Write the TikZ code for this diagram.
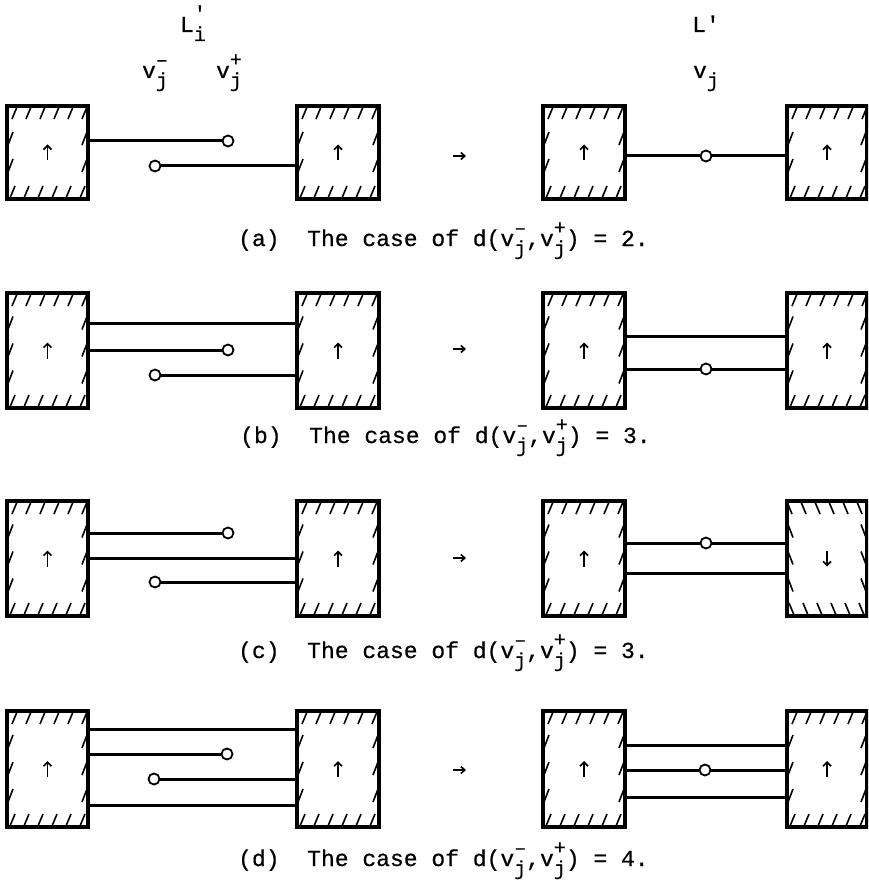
\documentclass[tikz,border=0pt]{standalone}
\usepackage{fontspec}
\usetikzlibrary{arrows.meta}
\newfontfamily\cour[FakeBold=0.6]{Liberation Mono}
\newcommand\supsub[2]{{\fontsize{20}{20}\selectfont\rlap{\raisebox{-9pt}{#2}}\raisebox{12pt}{#1}}}
\newcommand\subonly[1]{{\fontsize{20}{20}\selectfont\raisebox{-9pt}{#1}}}
\newcommand\mns{\symbol{"2013}}
\newcommand\capfont{\cour\fontsize{23}{28}\selectfont}
\tikzset{
  hbox/.style={draw, line width=3.8pt, rectangle, inner sep=0pt, outer sep=0pt, anchor=north west},
  tick/.style={line width=1.6pt},
  conn/.style={line width=3pt},
  dot/.style={circle, draw, line width=1.8pt, minimum size=11pt, inner sep=0pt, fill=white},
  uparr/.style={line width=1.7pt, -{Straight Barb[length=4pt,width=8pt]}},
  tarr/.style={line width=1.6pt, -{Straight Barb[length=4pt,width=7pt]}},
  lbl/.style={font=\capfont, inner sep=0pt, anchor=base},
  captxt/.style={font=\capfont, inner sep=0pt, anchor=base west},
}
% name, left x, top y, width, height, mirror (1 or -1)
\newcommand\hatchbox[6]{%
  \node[hbox, minimum width=#4pt, minimum height=#5pt] (#1) at (#2,#3) {};
  \begin{scope}[shift={(#1.center)}, xscale=#6]
    \pgfmathsetmacro\bxhw{#4/2}
    \pgfmathsetmacro\bxhh{#5/2}
    \pgfmathtruncatemacro\bxn{(#5-28)/25}
    \foreach \k in {0,...,5}{
      \draw[tick] (-\bxhw+10+14*\k, -\bxhh+1) -- ++(-5,12);
      \draw[tick] (-\bxhw+3+14*\k, \bxhh-1) -- ++(5,-12);
    }
    \foreach \k in {1,...,\bxn}{
      \pgfmathsetmacro\bxy{(\k-(\bxn+1)/2)*27}
      \draw[tick] (-\bxhw+1,\bxy+6) -- ++(5,-13);
      \draw[tick] (\bxhw-6,\bxy+6) -- ++(5,-13);
    }
    \draw[uparr] (0,{8*(#6)}) -- (0,{-8*(#6)});
  \end{scope}
}
\begin{document}
\begin{tikzpicture}[x=1pt,y=-1pt]
\useasboundingbox (0,0) rectangle (868,893);
\clip (0,0) rectangle (868,893);

% top labels
\node[lbl] (Li) at (193,32) {L\supsub{\textquotesingle}{i}};
\node[lbl] (vm) at (155,78) {v\supsub{\mns}{j}};
\node[lbl] (vp) at (229,78) {v\supsub{+}{j}};
\node[lbl] (Lp) at (706,32) {L\textquotesingle};
\node[lbl] (vj) at (706,78) {v\subonly{j}};

% ---------- row (a)
\hatchbox{a1}{7}{106}{81}{93}{1}
\hatchbox{a2}{297}{106}{82}{93}{1}
\hatchbox{a3}{543}{106}{82}{93}{1}
\hatchbox{a4}{787}{106}{80}{93}{1}
\node[dot] (ap) at (228,141) {};
\node[dot] (am) at (155,166) {};
\node[dot] (av) at (706,156) {};
\draw[conn] (a1.east |- ap) -- (ap);
\draw[conn] (am) -- (a2.west |- am);
\draw[conn] (a3.east |- av) -- (av) -- (a4.west |- av);
\coordinate (ta0) at (453,156); \coordinate (ta1) at (466,156);
\draw[tarr] (ta0) -- (ta1);
\node[captxt] (capa) at (238,246) {(a)\ \ The case of d(v\supsub{\mns}{j},v\supsub{+}{j}) = 2.};

% ---------- row (b)
\hatchbox{b1}{7}{293}{81}{115}{1}
\hatchbox{b2}{297}{293}{82}{115}{1}
\hatchbox{b3}{543}{293}{82}{115}{1}
\hatchbox{b4}{787}{293}{80}{115}{1}
\node[dot] (bp) at (228,350) {};
\node[dot] (bm) at (155,375) {};
\node[dot] (bv) at (706,369) {};
\draw[conn] (b1.east |- 0,323) -- (b2.west |- 0,323);
\draw[conn] (b1.east |- bp) -- (bp);
\draw[conn] (bm) -- (b2.west |- bm);
\draw[conn] (b3.east |- 0,336) -- (b4.west |- 0,336);
\draw[conn] (b3.east |- bv) -- (bv) -- (b4.west |- bv);
\coordinate (tb0) at (453,349); \coordinate (tb1) at (466,349);
\draw[tarr] (tb0) -- (tb1);
\node[captxt] (capb) at (240,443) {(b)\ \ The case of d(v\supsub{\mns}{j},v\supsub{+}{j}) = 3.};

% ---------- row (c)
\hatchbox{c1}{7}{501}{81}{115}{1}
\hatchbox{c2}{297}{501}{82}{115}{1}
\hatchbox{c3}{543}{501}{82}{115}{1}
\hatchbox{c4}{787}{501}{80}{115}{-1}
\node[dot] (cp) at (228,533) {};
\node[dot] (cm) at (155,582) {};
\node[dot] (cv) at (706,543) {};
\draw[conn] (c1.east |- cp) -- (cp);
\draw[conn] (c1.east |- 0,558) -- (c2.west |- 0,558);
\draw[conn] (cm) -- (c2.west |- cm);
\draw[conn] (c3.east |- cv) -- (cv) -- (c4.west |- cv);
\draw[conn] (c3.east |- 0,573) -- (c4.west |- 0,573);
\coordinate (tc0) at (453,558); \coordinate (tc1) at (466,558);
\draw[tarr] (tc0) -- (tc1);
\node[captxt] (capc) at (238,658) {(c)\ \ The case of d(v\supsub{\mns}{j},v\supsub{+}{j}) = 3.};

% ---------- row (d)
\hatchbox{d1}{7}{711}{81}{116}{1}
\hatchbox{d2}{297}{711}{82}{116}{1}
\hatchbox{d3}{543}{711}{82}{116}{1}
\hatchbox{d4}{787}{711}{80}{116}{1}
\node[dot] (dp) at (227,754) {};
\node[dot] (dm) at (154,779) {};
\node[dot] (dv) at (705,770) {};
\draw[conn] (d1.east |- 0,729) -- (d2.west |- 0,729);
\draw[conn] (d1.east |- dp) -- (dp);
\draw[conn] (dm) -- (d2.west |- dm);
\draw[conn] (d1.east |- 0,805) -- (d2.west |- 0,805);
\draw[conn] (d3.east |- 0,745) -- (d4.west |- 0,745);
\draw[conn] (d3.east |- dv) -- (dv) -- (d4.west |- dv);
\draw[conn] (d3.east |- 0,797) -- (d4.west |- 0,797);
\coordinate (td0) at (453,770); \coordinate (td1) at (466,770);
\draw[tarr] (td0) -- (td1);
\node[captxt] (capd) at (238,866) {(d)\ \ The case of d(v\supsub{\mns}{j},v\supsub{+}{j}) = 4.};
\end{tikzpicture}
\end{document}
